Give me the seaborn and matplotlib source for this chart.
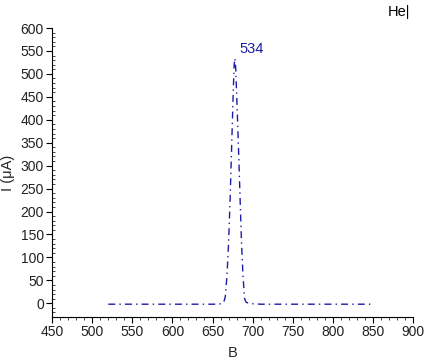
import numpy as np
import pandas as pd
import matplotlib
matplotlib.use("Agg")
import matplotlib.pyplot as plt
import seaborn as sns
from matplotlib.ticker import MultipleLocator

sns.set_style("white")
plt.rcParams['font.family'] = ['Liberation Sans', 'DejaVu Sans']

B = [520, 530, 540, 550, 560, 570, 580, 590, 600, 610, 620, 630, 640, 650, 656, 660, 664,
     666, 668, 670, 672, 674, 676, 677, 678, 679, 680, 682, 684, 686, 688, 690, 692,
     696, 700, 710, 720, 730, 740, 750, 760, 770, 780, 790, 800, 810, 820, 830, 840, 848]
I = [-2, -2, -2, -2, -2, -2, -2, -2, -2, -2, -2, -2, -2, -2, -2, -1, 2,
     15, 60, 130, 230, 350, 470, 520, 534, 510, 460, 360, 250, 140, 60, 10, 2,
     0, -1, -2, -2, -2, -2, -2, -2, -2, -2, -2, -2, -2, -2, -2, -2, -2]
peak_B, peak_I = 678, 534

df = pd.DataFrame({"B": B, "I": I})

fig = plt.figure(figsize=(4.24, 3.64), dpi=100)
ax = fig.add_axes([0.123, 0.129, 0.851, 0.794])
sns.lineplot(data=df, x="B", y="I", ax=ax, color="#1c1ca8", linewidth=1.0,
             linestyle=(0, (5, 3, 1, 3)))

ax.set_xlim(450, 900)
ax.set_ylim(-30, 600)
ax.xaxis.set_major_locator(MultipleLocator(50))
ax.xaxis.set_minor_locator(MultipleLocator(10))
ax.yaxis.set_major_locator(MultipleLocator(50))
ax.yaxis.set_minor_locator(MultipleLocator(10))
ax.tick_params(which="major", direction="out", length=4, width=0.8, labelsize=10,
               left=True, bottom=True, colors="black", pad=2)
ax.tick_params(axis="x", which="minor", direction="out", length=2, width=0.6, bottom=True)
ax.tick_params(axis="y", which="minor", direction="in", length=2.5, width=0.6, left=True)
for lbl in ax.get_xticklabels() + ax.get_yticklabels():
    lbl.set_color("#222222")
for s in ["top", "right"]:
    ax.spines[s].set_visible(False)
for s in ["left", "bottom"]:
    ax.spines[s].set_color("black")
    ax.spines[s].set_linewidth(0.8)

ax.set_xlabel("B", fontsize=10.5, labelpad=5)
ax.set_ylabel("I (μA)", fontsize=10.5, labelpad=4)
ax.text(peak_B + 6, peak_I + 4, f"{peak_I}", color="#1c1ca8", fontsize=10.5,
        va="bottom", ha="left")
fig.text(0.915, 0.985, "He|", fontsize=10.5, va="top", ha="left", color="black")

fig.savefig("out.png", dpi=100)
